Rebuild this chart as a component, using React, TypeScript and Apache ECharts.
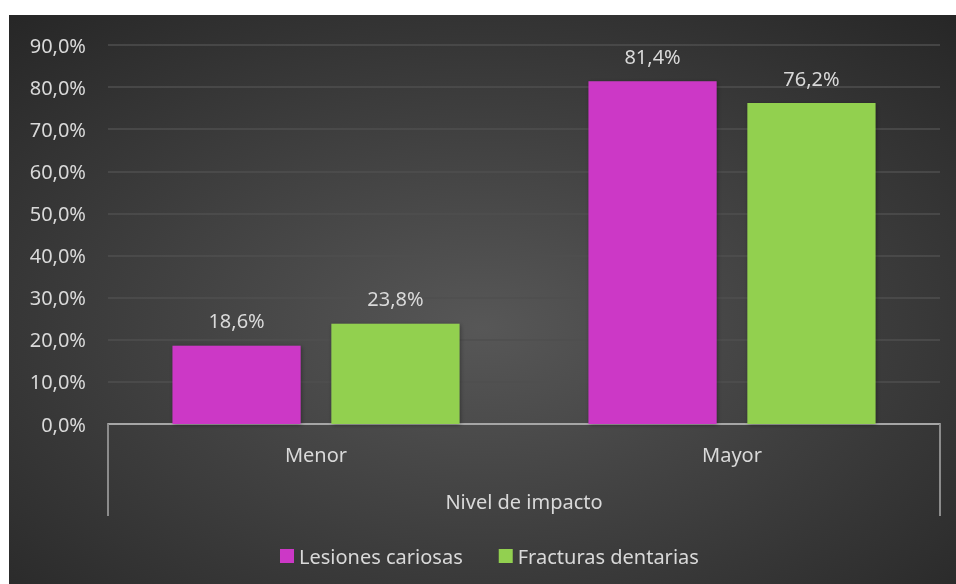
import React, { useEffect, useRef } from "react";
import * as echarts from "echarts";

const categories = ["Menor", "Mayor"];
const lesionesCariosas = [18.6, 81.4];
const fracturasDentarias = [23.8, 76.2];
const seriesNames = ["Lesiones cariosas", "Fracturas dentarias"];
const axisTitle = "Nivel de impacto";

const FONT = "'Noto Sans', sans-serif";
const TXT = "#d9d9d9";
const FS = 20;

const fmt = (v: number) => v.toFixed(1).replace(".", ",") + "%";

export default function App() {
  const ref = useRef<HTMLDivElement>(null);
  useEffect(() => {
    if (!ref.current) return;
    const chart = echarts.init(ref.current, undefined, { renderer: "svg" });
    chart.setOption({
      animation: false,
      backgroundColor: {
        type: "radial",
        x: 0.5,
        y: 0.55,
        r: 0.75,
        colorStops: [
          { offset: 0, color: "#575757" },
          { offset: 1, color: "#262626" },
        ],
      },
      textStyle: { fontFamily: FONT },
      grid: { left: 99, right: 16, top: 30, bottom: 160 },
      legend: {
        bottom: 13,
        left: 266,
        itemWidth: 14,
        itemHeight: 14,
        itemGap: 36,
        icon: "rect",
        textStyle: { color: TXT, fontSize: FS, fontFamily: FONT },
        data: seriesNames,
      },
      xAxis: [
        {
          type: "category",
          data: categories,
          axisLine: { show: true, lineStyle: { color: "#a6a6a6", width: 2 } },
          axisTick: { show: false },
          axisLabel: { color: TXT, fontSize: FS, margin: 20, fontFamily: FONT },
          name: axisTitle,
          nameLocation: "middle",
          nameGap: 67,
          nameTextStyle: { color: TXT, fontSize: FS, fontFamily: FONT },
        },
        {
          type: "value",
          position: "bottom",
          min: 0,
          max: 1,
          interval: 1,
          axisLine: { show: false },
          axisTick: { show: true, length: 92, lineStyle: { color: "#8c8c8c", width: 2 } },
          axisLabel: { show: false },
          splitLine: { show: false },
        },
      ],
      yAxis: {
        type: "value",
        min: 0,
        max: 90,
        interval: 10,
        axisLine: { show: false },
        axisTick: { show: false },
        axisLabel: { color: TXT, fontSize: FS, margin: 22, formatter: (v: number) => fmt(v), fontFamily: FONT },
        splitLine: { lineStyle: { color: "#4f4f4f", width: 1.5 } },
      },
      series: [
        {
          name: seriesNames[0],
          type: "bar",
          data: lesionesCariosas,
          barGap: "24%",
          barCategoryGap: "31%",
          itemStyle: { color: "#cc38c6", shadowColor: "rgba(0,0,0,0.35)", shadowBlur: 4, shadowOffsetX: 1, shadowOffsetY: 1 },
          label: { show: true, position: "top", distance: 15, color: TXT, fontSize: FS, fontFamily: FONT, formatter: (p: any) => fmt(p.value) },
        },
        {
          name: seriesNames[1],
          type: "bar",
          data: fracturasDentarias,
          itemStyle: { color: "#92d050", shadowColor: "rgba(0,0,0,0.35)", shadowBlur: 4, shadowOffsetX: 1, shadowOffsetY: 1 },
          label: { show: true, position: "top", distance: 15, color: TXT, fontSize: FS, fontFamily: FONT, formatter: (p: any) => fmt(p.value) },
        },
      ],
    });
    return () => chart.dispose();
  }, []);
  return (
    <div
      ref={ref}
      style={{ position: "fixed", left: 9, top: 15, width: 947, height: 569 }}
    />
  );
}
